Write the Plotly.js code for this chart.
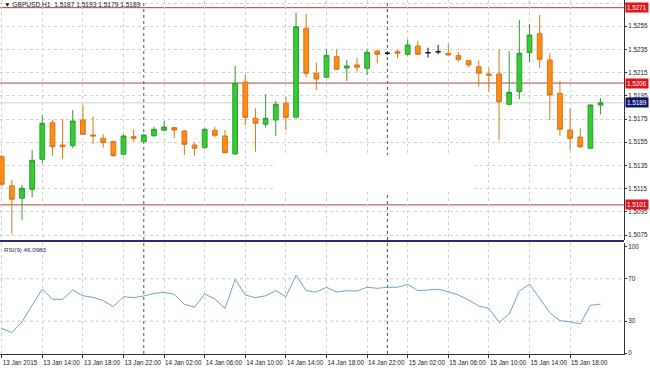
<!DOCTYPE html>
<html><head><meta charset="utf-8">
<script src="https://cdn.plot.ly/plotly-3.0.1.min.js"></script>
<style>html,body{margin:0;padding:0;background:#fff;}#chart{width:650px;height:370px;}</style>
</head><body><div id="chart"></div>
<script>
const symbolTitle = "\u25BC GBPUSD,H1  1.5187 1.5193 1.5179 1.5189";
const rsiTitle = "RSI(9) 46.0983";

const barIndex = [0,1,2,3,4,5,6,7,8,9,10,11,12,13,14,15,16,17,18,19,20,21,22,23,24,25,26,27,28,29,30,31,32,33,34,35,36,37,38,39,40,41,42,43,44,45,46,47,48,49,50,51,52,53,54,55,56,57,58,59];

const openP = [1.51425,1.51175,1.51067,1.51144,1.51403,1.51718,1.51526,1.51520,1.51742,1.51612,
1.51584,1.51555,1.51446,1.51598,1.51555,1.51606,1.51653,1.51676,1.51647,1.51526,
1.51503,1.51653,1.51604,1.51449,1.52069,1.51756,1.51705,1.51742,1.51886,1.51765,
1.52532,1.52144,1.52110,1.52287,1.52190,1.52216,1.52187,1.52336,1.52317,1.52330,
1.52308,1.52379,1.52322,1.52330,1.52317,1.52296,1.52253,1.52201,1.52138,1.52138,
1.51877,1.51986,1.52322,1.52486,1.52259,1.51972,1.51655,1.51595,1.51498,1.5187];

const highP = [1.51440,1.51224,1.51181,1.51483,1.51779,1.51742,1.51750,1.51828,1.51871,1.51770,
1.51621,1.51563,1.51618,1.51661,1.51617,1.51684,1.51733,1.51684,1.51655,1.51546,
1.51672,1.51684,1.51655,1.52207,1.52131,1.51842,1.51963,1.51905,1.51942,1.52667,
1.52655,1.52239,1.52351,1.52351,1.52259,1.52279,1.52351,1.52345,1.52327,1.52345,
1.52437,1.52425,1.52365,1.52388,1.52397,1.52325,1.52259,1.52253,1.52192,1.52351,
1.52336,1.52604,1.52569,1.52647,1.52317,1.52080,1.51842,1.51670,1.51875,1.5193];

const lowP = [1.51173,1.50756,1.50880,1.51075,1.51368,1.51434,1.51403,1.51498,1.51612,1.51535,
1.51503,1.51425,1.51440,1.51555,1.51552,1.51598,1.51647,1.51584,1.51440,1.51434,
1.51496,1.51592,1.51455,1.51440,1.51698,1.51468,1.51676,1.51604,1.51655,1.51756,
1.52110,1.52000,1.52106,1.52173,1.52080,1.52158,1.52130,1.52230,1.52302,1.52273,
1.52296,1.52302,1.52279,1.52308,1.52298,1.52244,1.52196,1.52029,1.51986,1.51569,
1.51871,1.51920,1.52239,1.52192,1.51742,1.51604,1.51483,1.51498,1.51496,1.5179];

const closeP = [1.51187,1.51058,1.51153,1.51394,1.51713,1.51511,1.51511,1.51733,1.51618,1.51604,
1.51546,1.51434,1.51604,1.51584,1.51612,1.51661,1.51681,1.51655,1.51532,1.51498,
1.51661,1.51610,1.51460,1.52058,1.51765,1.51713,1.51756,1.51877,1.51765,1.52546,
1.52144,1.52095,1.52299,1.52179,1.52207,1.52196,1.52325,1.52308,1.52317,1.52317,
1.52388,1.52308,1.52322,1.52330,1.52302,1.52265,1.52216,1.52144,1.52127,1.51899,
1.51980,1.52317,1.52474,1.52265,1.51957,1.51661,1.51584,1.51511,1.51871,1.5189];

const rsiValues = [23.3,19.2,29.5,45,60.4,50.6,50.6,59.4,54,52.5,
49.4,43.7,53.1,52.2,53.8,56.3,57.2,55.3,45.9,43.1,
55.7,50.9,42.1,69.5,54.7,52.2,54,58.8,53.1,73.3,
58.8,57.5,62,57.5,58.8,58.5,62,61,62,62,
64.8,58.8,59.1,60.1,57.9,54.7,50,44.3,42.1,28.9,
36.8,58.5,65.1,51.6,38,30.5,29.5,27.4,45,46.0983];

const timeTickIdx = [0,4,8,12,16,20,24,28,32,36,40,44,48,52,56];
const timeTickText = ["13 Jan 2015","13 Jan 14:00","13 Jan 18:00","13 Jan 22:00","14 Jan 02:00","14 Jan 06:00","14 Jan 10:00","14 Jan 14:00","14 Jan 18:00","14 Jan 22:00","15 Jan 02:00","15 Jan 06:00","15 Jan 10:00","15 Jan 14:00","15 Jan 18:00"];
const daySeparatorIdx = [14, 38];

const priceTicks = [1.5075,1.5095,1.5115,1.5135,1.5155,1.5175,1.5195,1.5215,1.5235,1.5255,1.5275];
const levelLines = [1.5271, 1.5206, 1.5101];
const currentPrice = 1.5189;
const rsiTicks = [0, 30, 70, 100];
const rsiLevels = [30, 70];

// split dojis (open == close) into black crosses
const isDoji = barIndex.map(i => openP[i] === closeP[i]);
function pick(arr, want) { return barIndex.filter(i => isDoji[i] === want).map(i => arr[i]); }

const font = "Liberation Sans, Arial, sans-serif";

const candles = {
  type: 'candlestick', xaxis: 'x', yaxis: 'y',
  x: pick(barIndex, false), open: pick(openP, false), high: pick(highP, false),
  low: pick(lowP, false), close: pick(closeP, false),
  increasing: {line: {color: '#2f9e2f', width: 1}, fillcolor: '#33cc33'},
  decreasing: {line: {color: '#d9761a', width: 1}, fillcolor: '#ff8c14'},
  hoverinfo: 'skip', showlegend: false
};
const dojis = {
  type: 'candlestick', xaxis: 'x', yaxis: 'y',
  x: pick(barIndex, true), open: pick(openP, true), high: pick(highP, true),
  low: pick(lowP, true), close: pick(closeP, true),
  increasing: {line: {color: '#111', width: 1}, fillcolor: '#111'},
  decreasing: {line: {color: '#111', width: 1}, fillcolor: '#111'},
  hoverinfo: 'skip', showlegend: false
};
const rsi = {
  type: 'scatter', mode: 'lines', xaxis: 'x', yaxis: 'y2',
  x: barIndex, y: rsiValues,
  line: {color: '#6fa3c2', width: 1}, hoverinfo: 'skip', showlegend: false
};

const shapes = [];
levelLines.forEach(v => shapes.push({type:'line', xref:'paper', x0:0, x1:1, yref:'y', y0:v, y1:v, line:{color:'#a8453f', width:1}, layer:'between'}));
shapes.push({type:'line', xref:'paper', x0:0, x1:1, yref:'y', y0:currentPrice, y1:currentPrice, line:{color:'#cfcfcf', width:1}, layer:'between'});
rsiLevels.forEach(v => shapes.push({type:'line', xref:'paper', x0:0, x1:1, yref:'y2', y0:v, y1:v, line:{color:'#c8c8c8', width:1, dash:'3px,3px'}, layer:'between'}));
daySeparatorIdx.forEach(v => shapes.push({type:'line', xref:'x', x0:v, x1:v, yref:'paper', y0:0, y1:1, line:{color:'#555', width:1, dash:'dot'}, layer:'between'}));
// blank patch in the price pane
shapes.push({type:'rect', xref:'x', x0:26.9, x1:46.5, yref:'y', y0:1.5112, y1:1.5144, fillcolor:'#fff', line:{width:0}, layer:'between'});
// pane separator
shapes.push({type:'line', xref:'paper', x0:0, x1:1, yref:'paper', y0:0.3192, y1:0.3192, line:{color:'#2b2b6e', width:2}});

const annotations = [
  {xref:'paper', yref:'paper', x:0, y:1, xanchor:'left', yanchor:'top', xshift:2, yshift:1, text:symbolTitle, showarrow:false, font:{family:font, size:6.6, color:'#222'}},
  {xref:'paper', yref:'paper', x:0, y:0.3136, xanchor:'left', yanchor:'top', xshift:2, yshift:-1, text:rsiTitle, showarrow:false, font:{family:font, size:6.2, color:'#2a2a55'}}
];
levelLines.forEach(v => annotations.push({xref:'paper', yref:'y', x:1, y:v, xanchor:'left', yanchor:'middle', xshift:1, text:v.toFixed(4), showarrow:false, bgcolor:'#e3141c', borderpad:1, font:{family:font, size:6.3, color:'#fff'}}));
annotations.push({xref:'paper', yref:'y', x:1, y:currentPrice, xanchor:'left', yanchor:'middle', xshift:1, text:currentPrice.toFixed(4), showarrow:false, bgcolor:'#14146e', borderpad:1, font:{family:font, size:6.3, color:'#fff'}});

const layout = {
  width: 650, height: 370,
  margin: {l:0, r:26, t:0, b:16, pad:0},
  paper_bgcolor: '#fff', plot_bgcolor: '#fff',
  font: {family: font, size: 6.3, color: '#222'},
  showlegend: false,
  boxgap: 0.33,
  xaxis: {
    range: [-0.167, 61.31], anchor: 'y2',
    tickvals: timeTickIdx, ticktext: timeTickText, tickangle: 0,
    ticks: 'outside', ticklen: 3, tickcolor: '#333',
    ticklabelposition: 'outside right', ticklabelstandoff: 2,
    tickfont: {family: font, size: 6.3, color: '#222'},
    showline: true, linecolor: '#333', linewidth: 1,
    showgrid: true, gridcolor: '#d2d2d2', griddash: '3px,3px', gridwidth: 1,
    zeroline: false, rangeslider: {visible: false}, fixedrange: true
  },
  yaxis: {
    domain: [0.322, 1], range: [1.50707, 1.52776], side: 'right',
    tickvals: priceTicks, tickformat: '.4f',
    ticks: 'outside', ticklen: 2, tickcolor: '#333',
    tickfont: {family: font, size: 6.3, color: '#222'},
    showline: true, linecolor: '#333', linewidth: 1,
    showgrid: true, gridcolor: '#d2d2d2', griddash: '3px,3px', gridwidth: 1,
    zeroline: false, fixedrange: true
  },
  yaxis2: {
    domain: [0, 0.3136], range: [-0.94, 103.77], side: 'right',
    tickvals: rsiTicks,
    ticks: 'outside', ticklen: 2, tickcolor: '#333',
    tickfont: {family: font, size: 6.3, color: '#222'},
    showline: true, linecolor: '#333', linewidth: 1,
    showgrid: false, zeroline: false, fixedrange: true
  },
  shapes: shapes,
  annotations: annotations
};

Plotly.newPlot('chart', [candles, dojis, rsi], layout, {staticPlot: true, displayModeBar: false});
</script>
</body></html>
